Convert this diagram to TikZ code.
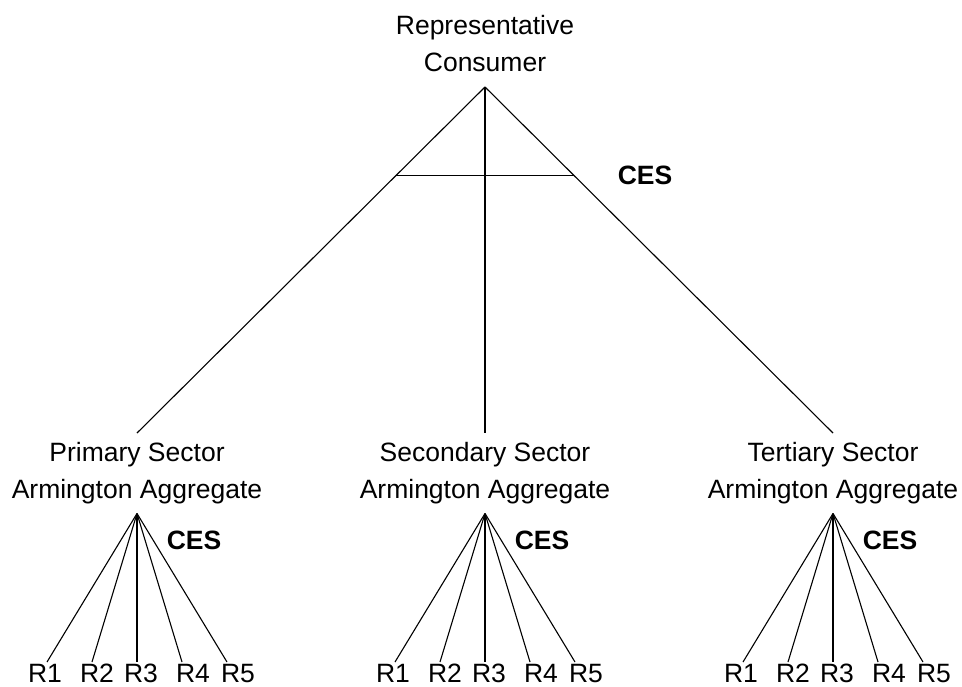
\documentclass[tikz,border=0pt]{standalone}
\usepackage{fontspec}
\setmainfont{Liberation Sans}
\usetikzlibrary{calc}

\tikzset{
  sector/.style={align=center, inner xsep=0pt, inner ysep=4.5pt},
  ces/.style={font=\fontsize{13.25}{16}\selectfont\bfseries, inner sep=0pt},
  rlbl/.style={inner sep=0pt},
  branch/.style={line width=0.55pt}
}

\begin{document}
\begin{tikzpicture}[x=0.5pt,y=-0.5pt,font=\fontsize{13.25}{18.5}\selectfont]
\useasboundingbox (0,0) rectangle (962,686);

\node[sector, inner ysep=7.5pt, anchor=south] (rep) at (485,87) {Representative\\Consumer};
\node[ces] (top-ces) at (645,175) {CES};

\foreach \s/\x/\nm in {prim/137/Primary, sec/485/Secondary, ter/833/Tertiary}{
  \node[sector, anchor=north] (\s) at (\x,433) {\nm\ Sector\\Armington Aggregate};
  \draw[branch] (rep.south) -- (\s.north);
  \node[ces] (\s-ces) at (\x+57,540) {CES};
  \foreach \i/\dx/\lx in {1/-90/-92, 2/-45/-40, 3/0/4, 4/45/56, 5/90/101}{
    \node[rlbl, anchor=base] (\s-r\i) at (\x+\lx,682) {R\i};
    \coordinate (\s-e\i) at (\x+\dx,662);
    \draw[branch] (\s.south) -- (\s-e\i);
  }
}

\draw[branch] ($(rep.south)!.257!(prim.north)$) -- ($(rep.south)!.257!(ter.north)$);
\end{tikzpicture}
\end{document}
